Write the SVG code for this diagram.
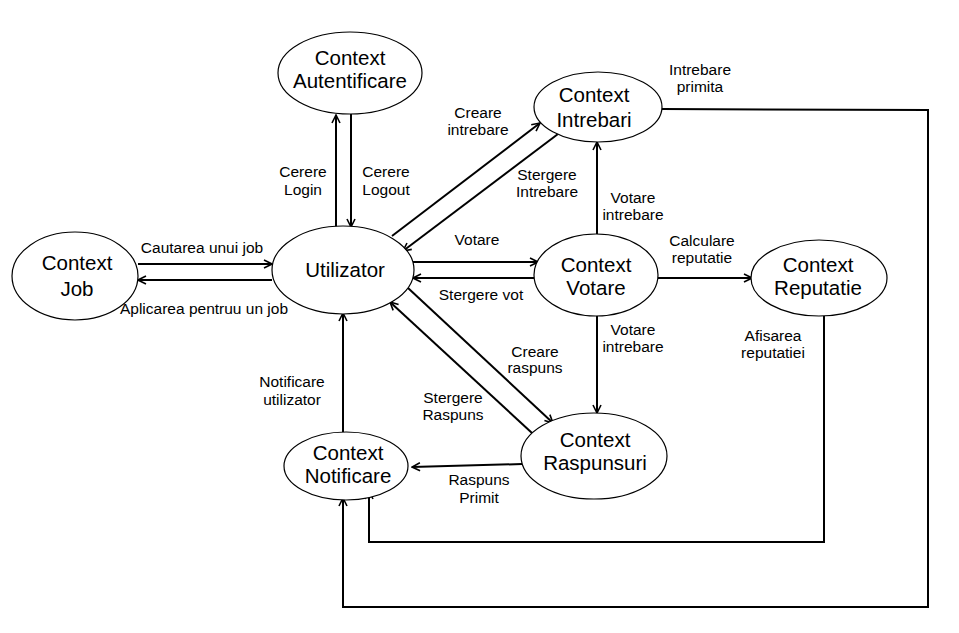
<svg xmlns="http://www.w3.org/2000/svg" width="959" height="633" viewBox="0 0 959 633">
<style>
.node ellipse{fill:#fff;stroke:#000;stroke-width:1.2}
.nt{font-family:"Liberation Sans",Arial,sans-serif;font-size:20.5px;text-anchor:middle;fill:#000}
.lb{font-family:"Liberation Sans",Arial,sans-serif;font-size:15.5px;text-anchor:middle;fill:#000}
.e{fill:none;stroke:#000;stroke-width:2}
</style>
<defs>
<marker id="ah" markerUnits="userSpaceOnUse" viewBox="0 0 10 10" refX="9" refY="5" markerWidth="10" markerHeight="10" orient="auto">
<path d="M1,1 L9,5 L1,9" fill="none" stroke="#000" stroke-width="1.6"/>
</marker>
</defs>
<rect width="959" height="633" fill="#fff"/>
<g id="connectors">
<line class="e" x1="336" y1="228" x2="336" y2="115" marker-end="url(#ah)"/>
<line class="e" x1="351" y1="114" x2="351" y2="227" marker-end="url(#ah)"/>
<line class="e" x1="138" y1="264" x2="272" y2="264" marker-end="url(#ah)"/>
<line class="e" x1="272" y1="280" x2="138" y2="280" marker-end="url(#ah)"/>
<line class="e" x1="392" y1="236" x2="540" y2="123" marker-end="url(#ah)"/>
<line class="e" x1="558" y1="134" x2="403" y2="251" marker-end="url(#ah)"/>
<line class="e" x1="413" y1="262" x2="538" y2="262" marker-end="url(#ah)"/>
<line class="e" x1="537" y1="278" x2="413" y2="278" marker-end="url(#ah)"/>
<line class="e" x1="597" y1="234" x2="597" y2="142" marker-end="url(#ah)"/>
<line class="e" x1="597" y1="316" x2="597" y2="413" marker-end="url(#ah)"/>
<line class="e" x1="658" y1="278" x2="752" y2="278" marker-end="url(#ah)"/>
<line class="e" x1="408" y1="288" x2="553" y2="423" marker-end="url(#ah)"/>
<line class="e" x1="532" y1="433" x2="390" y2="302" marker-end="url(#ah)"/>
<line class="e" x1="522" y1="464" x2="412" y2="467" marker-end="url(#ah)"/>
<line class="e" x1="343" y1="432" x2="343" y2="313" marker-end="url(#ah)"/>
<polyline class="e" points="662,109 928,110 928,607 343,607 343,498" marker-end="url(#ah)"/>
<polyline class="e" points="824,316 824,542 369,542 369,491" marker-end="url(#ah)"/>
</g>
<g id="n-autentificare" class="node"><ellipse cx="350" cy="73" rx="72" ry="41"/><text class="nt" x="350" y="65">Context</text><text class="nt" x="350" y="88">Autentificare</text></g>
<g id="n-job" class="node"><ellipse cx="75" cy="276" rx="63" ry="44"/><text class="nt" x="77" y="270">Context</text><text class="nt" x="77" y="296">Job</text></g>
<g id="n-utilizator" class="node"><ellipse cx="343" cy="270" rx="71" ry="44"/><text class="nt" x="345" y="277">Utilizator</text></g>
<g id="n-intrebari" class="node"><ellipse cx="598" cy="107" rx="64" ry="35"/><text class="nt" x="594" y="102">Context</text><text class="nt" x="594" y="127">Intrebari</text></g>
<g id="n-votare" class="node"><ellipse cx="596" cy="275" rx="62" ry="41"/><text class="nt" x="596" y="272">Context</text><text class="nt" x="596" y="295">Votare</text></g>
<g id="n-reputatie" class="node"><ellipse cx="819" cy="278" rx="68" ry="38"/><text class="nt" x="818" y="272">Context</text><text class="nt" x="818" y="295">Reputatie</text></g>
<g id="n-raspunsuri" class="node"><ellipse cx="594" cy="456" rx="73" ry="43"/><text class="nt" x="595" y="447">Context</text><text class="nt" x="595" y="470">Raspunsuri</text></g>
<g id="n-notificare" class="node"><ellipse cx="346" cy="466" rx="62" ry="34"/><text class="nt" x="348" y="460">Context</text><text class="nt" x="348" y="483">Notificare</text></g>
<g id="labels">
<text class="lb" x="303" y="177">Cerere</text><text class="lb" x="303" y="195">Login</text>
<text class="lb" x="386" y="177">Cerere</text><text class="lb" x="386" y="195">Logout</text>
<text class="lb" x="202" y="253">Cautarea unui job</text>
<text class="lb" x="204" y="314">Aplicarea pentruu un job</text>
<text class="lb" x="478" y="118">Creare</text><text class="lb" x="478" y="135">intrebare</text>
<text class="lb" x="547" y="180">Stergere</text><text class="lb" x="547" y="197">Intrebare</text>
<text class="lb" x="633" y="203">Votare</text><text class="lb" x="633" y="220">intrebare</text>
<text class="lb" x="477" y="245">Votare</text>
<text class="lb" x="702" y="246">Calculare</text><text class="lb" x="702" y="263">reputatie</text>
<text class="lb" x="481" y="300">Stergere vot</text>
<text class="lb" x="633" y="335">Votare</text><text class="lb" x="633" y="352">intrebare</text>
<text class="lb" x="773" y="341">Afisarea</text><text class="lb" x="773" y="358">reputatiei</text>
<text class="lb" x="535" y="357">Creare</text><text class="lb" x="535" y="373">raspuns</text>
<text class="lb" x="453" y="403">Stergere</text><text class="lb" x="453" y="420">Raspuns</text>
<text class="lb" x="292" y="387">Notificare</text><text class="lb" x="292" y="405">utilizator</text>
<text class="lb" x="479" y="485">Raspuns</text><text class="lb" x="479" y="503">Primit</text>
<text class="lb" x="700" y="75">Intrebare</text><text class="lb" x="700" y="92">primita</text>
</g>
</svg>
